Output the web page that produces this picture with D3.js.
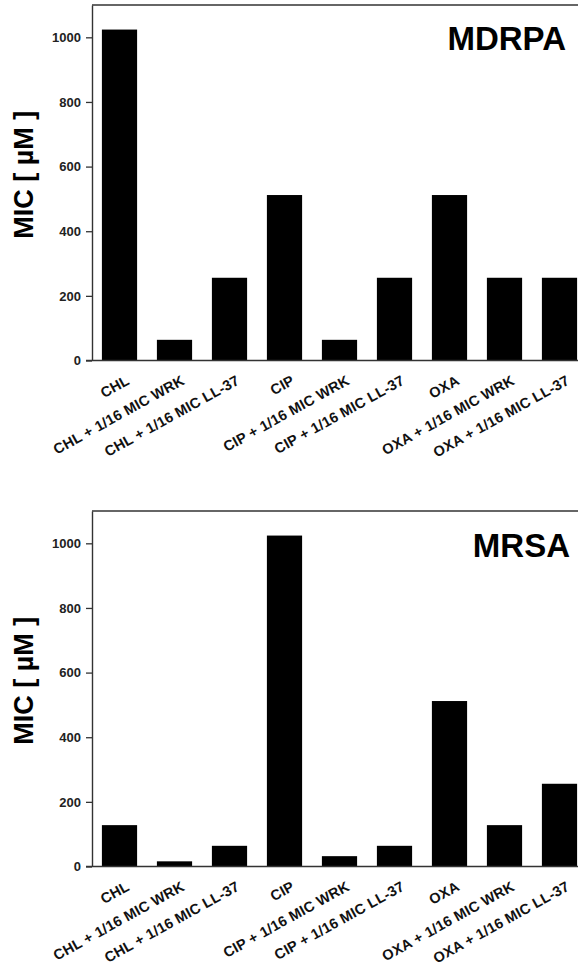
<!DOCTYPE html>
<html>
<head>
<meta charset="utf-8">
<script src="https://cdn.jsdelivr.net/npm/d3@7"></script>
<style>
  body { margin: 0; background: #fff; }
  svg { display: block; font-family: "Liberation Sans", Arial, sans-serif; font-weight: bold; }
</style>
</head>
<body>
<div id="chart"></div>
<script>
// categories shared by both panels
const categories = [
  "CHL", "CHL + 1/16 MIC WRK", "CHL + 1/16 MIC LL-37",
  "CIP", "CIP + 1/16 MIC WRK", "CIP + 1/16 MIC LL-37",
  "OXA", "OXA + 1/16 MIC WRK", "OXA + 1/16 MIC LL-37"
];
// MIC values (uM)
const mdrpaValues = [1024, 64, 256, 512, 64, 256, 512, 256, 256];
const mrsaValues = [128, 16, 64, 1024, 32, 64, 512, 128, 256];
const yTicks = [0, 200, 400, 600, 800, 1000];
const panelTitles = ["MDRPA", "MRSA"];

const width = 578;
const height = 974;

const svg = d3.select("#chart")
  .append("svg")
  .attr("width", width)
  .attr("height", height);

// both panels use same horizontal layout
const x = d3.scaleBand()
  .domain(categories)
  .range([92, 587])
  .paddingInner(0.36)
  .paddingOuter(0.18);

function drawPanel(values, title, top, bottom, titleX, titleY) {
  const y = d3.scaleLinear()
    .domain([0, 1100])
    .range([bottom, top]);

  const g = svg.append("g");

  // bars
  g.selectAll("rect")
    .data(values)
    .enter().append("rect")
    .attr("x", (d, i) => x(categories[i]))
    .attr("y", d => y(d))
    .attr("width", x.bandwidth())
    .attr("height", d => y(0) - y(d))
    .attr("fill", "#000");

  // frame top line
  g.append("line")
    .attr("x1", 92).attr("x2", width)
    .attr("y1", top).attr("y2", top)
    .attr("stroke", "#333").attr("stroke-width", 1.4);

  // y axis
  const yAxis = g.append("g")
    .attr("transform", "translate(92,0)")
    .call(d3.axisLeft(y).tickValues(yTicks).tickFormat(d3.format("d"))
      .tickSize(6).tickPadding(5).tickSizeOuter(0));
  yAxis.select(".domain").attr("stroke", "#333").attr("stroke-width", 1.4);
  yAxis.selectAll(".tick line").attr("stroke", "#333").attr("stroke-width", 1.3);
  yAxis.selectAll("text")
    .attr("fill", "#222")
    .style("font-size", "13px")
    .style("font-weight", "bold");

  // x axis line
  g.append("line")
    .attr("x1", 86).attr("x2", width)
    .attr("y1", bottom).attr("y2", bottom)
    .attr("stroke", "#333").attr("stroke-width", 1.4);

  // category labels, rotated
  g.selectAll(".xlab")
    .data(categories)
    .enter().append("text")
    .attr("class", "xlab")
    .attr("transform", d => "translate(" + (x(d) + x.bandwidth() / 2 + 11) + "," + (bottom + 23) + ") rotate(-29)")
    .attr("text-anchor", "end")
    .attr("fill", "#111")
    .style("font-size", "14.5px")
    .style("letter-spacing", "0.2px")
    .text(d => d);

  // y title
  g.append("text")
    .attr("transform", "translate(33," + ((top + bottom) / 2 - 8) + ") rotate(-90)")
    .attr("text-anchor", "middle")
    .attr("fill", "#000")
    .style("font-size", "27px")
    .text("MIC [ \u00b5M ]");

  // panel title
  g.append("text")
    .attr("x", titleX)
    .attr("y", titleY)
    .attr("text-anchor", "end")
    .attr("fill", "#000")
    .style("font-size", "33px")
    .text(title);
}

drawPanel(mdrpaValues, panelTitles[0], 5, 360.5, 566, 50);
drawPanel(mrsaValues, panelTitles[1], 511, 866.5, 570, 557);
</script>
</body>
</html>
